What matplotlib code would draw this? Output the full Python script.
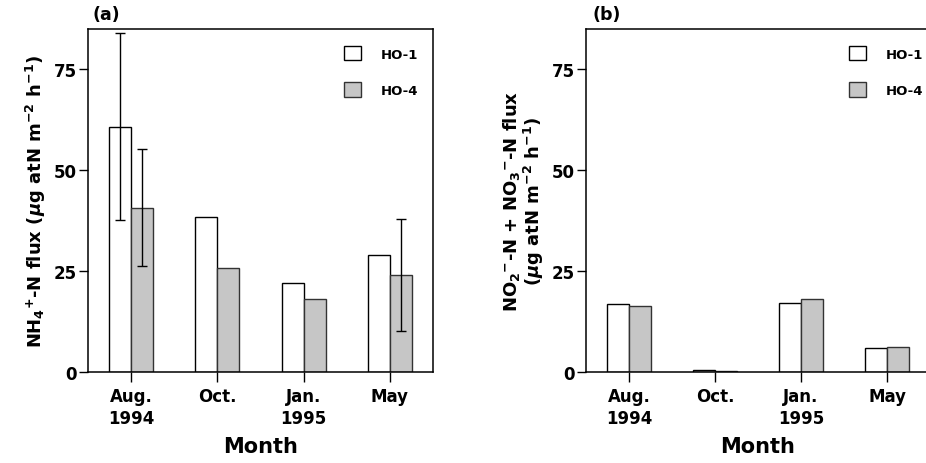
import matplotlib
matplotlib.use("Agg")
import matplotlib.pyplot as plt
import numpy as np
from matplotlib.patches import Patch

plt.rcParams['font.family'] = ['DejaVu Sans']
plt.rcParams['font.weight'] = 'bold'
plt.rcParams['axes.labelweight'] = 'bold'
plt.rcParams['mathtext.fontset'] = 'custom'
plt.rcParams['mathtext.rm'] = 'DejaVu Sans:bold'
plt.rcParams['mathtext.it'] = 'DejaVu Sans:bold:italic'
plt.rcParams['mathtext.default'] = 'rm'

months = ["Aug.\n1994", "Oct.", "Jan.\n1995", "May"]
series = ["HO-1", "HO-4"]

# panel (a): NH4+-N flux
nh4_ho1 = [60.8, 38.3, 22.1, 29.0]
nh4_ho4 = [40.7, 25.8, 18.0, 24.0]
nh4_ho1_err = [23.1, None, None, None]
nh4_ho4_err = [14.5, None, None, 13.8]

# panel (b): NO2- + NO3- N flux
nox_ho1 = [16.8, 0.5, 17.0, 5.9]
nox_ho4 = [16.4, 0.2, 18.0, 6.2]

fill = ['white', '#c6c6c6']
W, H = 926, 464
fig = plt.figure(figsize=(W / 100, H / 100), dpi=100)
ax_a = fig.add_axes([88 / W, 1 - 373 / H, 345 / W, 343 / H])
ax_b = fig.add_axes([586 / W, 1 - 373 / H, 344 / W, 343 / H])

x = np.arange(len(months))
bw = 0.255


def draw(ax, v1, v2, e1=None, e2=None, leg_x=0.71):
    ax.bar(x - bw / 2, v1, bw, color=fill[0], edgecolor='black', lw=1.0, zorder=2)
    ax.bar(x + bw / 2, v2, bw, color=fill[1], edgecolor='#333333', lw=1.0, zorder=2)
    for off, vals, errs in [(-bw / 2, v1, e1), (bw / 2, v2, e2)]:
        if errs is None:
            continue
        for i, (v, e) in enumerate(zip(vals, errs)):
            if e is None:
                continue
            ax.errorbar(x[i] + off, v, yerr=e, fmt='none', ecolor='black',
                        elinewidth=1.0, capsize=3.5, capthick=1.0, zorder=3)
    ax.set_xlim(-0.5, 3.5)
    ax.set_ylim(0, 85)
    ax.set_yticks([0, 25, 50, 75])
    ax.set_xticks(x)
    ax.set_xticklabels(months, fontsize=12, linespacing=1.3)
    ax.tick_params(axis='y', direction='out', length=6.5, width=1, labelsize=12, pad=1.5)
    ax.tick_params(axis='x', direction='out', length=7, width=1, pad=4)
    for s in ax.spines.values():
        s.set_linewidth(1.1)
    ax.set_xlabel("Month", fontsize=15, labelpad=6)
    handles = [Patch(facecolor=fill[0], edgecolor='black', label=series[0]),
               Patch(facecolor=fill[1], edgecolor='#333333', label=series[1])]
    ax.legend(handles=handles, loc='upper left', bbox_to_anchor=(leg_x, 0.985),
              frameon=False, fontsize=9.5, labelspacing=1.65, handlelength=1.3,
              handleheight=1.3, handletextpad=1.5)


draw(ax_a, nh4_ho1, nh4_ho4, nh4_ho1_err, nh4_ho4_err, leg_x=0.708)
draw(ax_b, nox_ho1, nox_ho4, leg_x=0.73)

ax_a.set_ylabel(r"NH$_4$$^{+}$-N flux ($\mathit{\mu}$g atN m$^{-2}$ h$^{-1}$)", fontsize=13, labelpad=4)
ax_b.set_ylabel("NO$_2$$^{-}$-N + NO$_3$$^{-}$-N flux\n($\\mathit{\\mu}$g atN m$^{-2}$ h$^{-1}$)",
                fontsize=13, labelpad=4, linespacing=1.0)

fig.text(92 / W, 1 - 15 / H, "(a)", fontsize=12.5, va='center', ha='left')
fig.text(592 / W, 1 - 15 / H, "(b)", fontsize=12.5, va='center', ha='left')

fig.savefig("out.png", dpi=100)
